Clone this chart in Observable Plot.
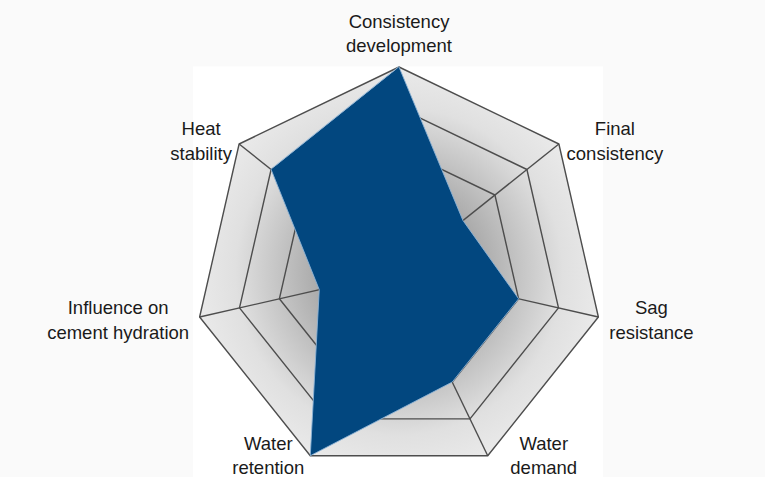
<!DOCTYPE html>
<html><head><meta charset="utf-8">
<script src="https://cdn.jsdelivr.net/npm/d3@7"></script>
<script src="https://cdn.jsdelivr.net/npm/@observablehq/plot@0.6"></script>
<style>html,body{margin:0;padding:0;background:#fafafa;overflow:hidden;}</style>
</head><body><div id="chart"></div>
<script>
// ---- data ----
const axes = ["Consistency\ndevelopment", "Final\nconsistency", "Sag\nresistance", "Water\ndemand", "Water\nretention", "Influence on\ncement hydration", "Heat\nstability"];
const values = [5, 2, 3, 3, 5, 2, 4];
const levels = [1, 2, 3, 4, 5];
const maxValue = 5;

// ---- layout ----
const W = 765, H = 477;
const cxPx = 398.5, cyPx = 271, Rpx = 204.5;
// label offsets (pixels) from each outer vertex
const labelOffsets = [[0, -35], [56, -4.5], [53, 1.5], [56, -1.5], [-42, -1.5], [-81.5, 1.5], [-38, -4.5]];

const n = axes.length;
const ang = i => 2 * Math.PI * i / n;
const pt = (i, v) => ({x: Math.sin(ang(i)) * v / maxValue, y: Math.cos(ang(i)) * v / maxValue});

const ringData = levels.flatMap(l => axes.map((a, i) => ({level: l, ...pt(i, l)})));
const outer = axes.map((a, i) => pt(i, maxValue));
const spokes = axes.map((a, i) => ({x1: 0, y1: 0, x2: pt(i, maxValue).x, y2: pt(i, maxValue).y}));
const poly = values.map((v, i) => pt(i, v));
const labels = axes.map((a, i) => {
  const p = pt(i, maxValue);
  return {text: a, x: p.x + labelOffsets[i][0] / Rpx, y: p.y - labelOffsets[i][1] / Rpx};
});

const xDomain = [-cxPx / Rpx, (W - cxPx) / Rpx];
const yDomain = [(cyPx - H) / Rpx, cyPx / Rpx];

const svg = Plot.plot({
  width: W, height: H, margin: 0,
  style: {background: "#fafafa", fontFamily: "'Liberation Sans', Arial, sans-serif"},
  x: {domain: xDomain, range: [0, W], axis: null},
  y: {domain: yDomain, range: [H, 0], axis: null},
  marks: [
    Plot.rect([{x1: -1.005, x2: 1.0, y1: yDomain[0], y2: 1.0}], {x1: "x1", x2: "x2", y1: "y1", y2: "y2", fill: "white"}),
    Plot.line(outer, {x: "x", y: "y", curve: "linear-closed", fill: "url(#bgGrad)", stroke: "none"}),
    Plot.line(ringData, {x: "x", y: "y", z: "level", curve: "linear-closed", stroke: "#4d4d4d", strokeWidth: 1.4}),
    Plot.link(spokes, {x1: "x1", y1: "y1", x2: "x2", y2: "y2", stroke: "#4d4d4d", strokeWidth: 1.4}),
    Plot.line(poly, {x: "x", y: "y", curve: "linear-closed", fill: "#02477f", stroke: "#8db3d6", strokeWidth: 0.9, strokeLinejoin: "miter"}),
    Plot.text(labels, {x: "x", y: "y", text: "text", fontSize: 18.5, lineHeight: 1.33, fill: "#1a1a1a", textAnchor: "middle"})
  ]
});

const gx = svg.scale("x").apply(0), gy = svg.scale("y").apply(0);
const gr = svg.scale("x").apply(1) - gx;
const grad = d3.select(svg).insert("defs", ":first-child").append("radialGradient")
  .attr("id", "bgGrad").attr("gradientUnits", "userSpaceOnUse")
  .attr("cx", gx).attr("cy", gy).attr("r", gr);
[[0, "#8a8a8a"], [0.35, "#a4a4a4"], [0.6, "#c6c6c6"], [0.8, "#e0e0e0"], [1, "#eaeaea"]].forEach(([o, c]) =>
  grad.append("stop").attr("offset", o).attr("stop-color", c));

document.getElementById("chart").appendChild(svg);
</script>
</body></html>
